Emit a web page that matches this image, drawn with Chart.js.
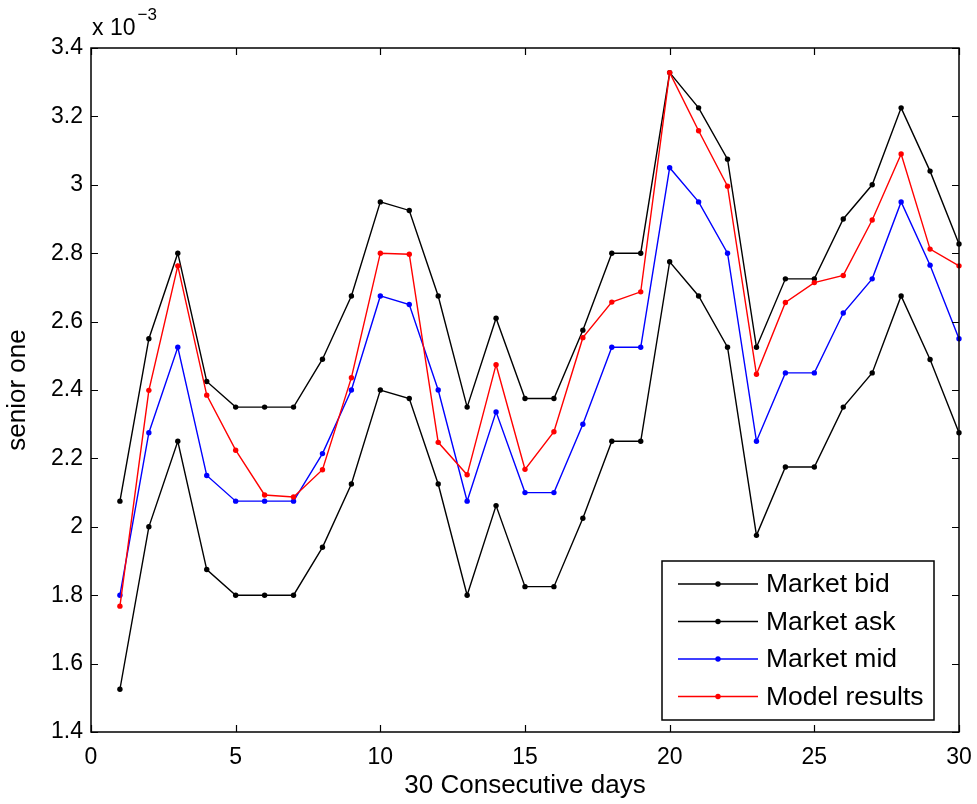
<!DOCTYPE html>
<html>
<head>
<meta charset="utf-8">
<title>Market quotes vs model, senior tranche</title>
<script src="https://cdn.jsdelivr.net/npm/chart.js@4.4.1/dist/chart.umd.min.js"></script>
<style>
  html, body { margin: 0; padding: 0; background: #fff; }
  #chart { display: block; }
</style>
</head>
<body>
<canvas id="chart" width="977" height="804"></canvas>
<script>
// Senior tranche spreads over 30 consecutive days (values in units of 1e-3)
const DAYS = Array.from({ length: 30 }, (_, i) => i + 1);

const MARKET_BID = [
  1.525, 2.000, 2.250, 1.875, 1.800, 1.800, 1.800, 1.940, 2.125, 2.400,
  2.375, 2.125, 1.800, 2.062, 1.825, 1.825, 2.025, 2.250, 2.250, 2.775,
  2.675, 2.525, 1.975, 2.175, 2.175, 2.350, 2.450, 2.675, 2.489, 2.275
];
const MARKET_ASK = [
  2.075, 2.550, 2.800, 2.425, 2.350, 2.350, 2.350, 2.490, 2.675, 2.950,
  2.925, 2.675, 2.350, 2.610, 2.375, 2.375, 2.575, 2.800, 2.800, 3.328,
  3.225, 3.075, 2.525, 2.725, 2.725, 2.900, 3.000, 3.225, 3.040, 2.827
];
const MARKET_MID = [
  1.800, 2.275, 2.525, 2.150, 2.075, 2.075, 2.075, 2.214, 2.400, 2.675,
  2.650, 2.400, 2.075, 2.336, 2.100, 2.100, 2.300, 2.525, 2.525, 3.050,
  2.950, 2.800, 2.250, 2.450, 2.450, 2.625, 2.725, 2.950, 2.765, 2.550
];
const MODEL_RESULTS = [
  1.768, 2.399, 2.763, 2.385, 2.224, 2.093, 2.087, 2.167, 2.436, 2.800,
  2.797, 2.247, 2.152, 2.474, 2.168, 2.278, 2.553, 2.657, 2.687, 3.328,
  3.158, 2.996, 2.446, 2.656, 2.714, 2.735, 2.897, 3.090, 2.812, 2.763
];

const SERIES_LABELS = ['Market bid', 'Market ask', 'Market mid', 'Model results'];
const SERIES_COLORS = ['#000000', '#000000', '#0000ff', '#ff0000'];

const X_TICKS = [0, 5, 10, 15, 20, 25, 30];
const Y_TICKS = [1.4, 1.6, 1.8, 2.0, 2.2, 2.4, 2.6, 2.8, 3.0, 3.2, 3.4];

const FONT = '"Liberation Sans", Arial, Helvetica, sans-serif';
const TICK_LEN = 7;

function mkSeries(values, idx) {
  return {
    label: SERIES_LABELS[idx],
    data: DAYS.map((d, i) => ({ x: d, y: values[i] })),
    borderColor: SERIES_COLORS[idx],
    backgroundColor: SERIES_COLORS[idx],
    borderWidth: 1.4,
    pointRadius: 2.7,
    pointHoverRadius: 2.7,
    pointBorderWidth: 0,
    tension: 0,
    clip: 8,
    order: 4 - idx   // later series sit on top
  };
}

// box around the plot with inward ticks on all four sides, plus the 1e-3 multiplier
const axesBox = {
  id: 'axesBox',
  afterDatasetsDraw(chart) {
    const { ctx, chartArea: a, scales } = chart;
    ctx.save();
    ctx.strokeStyle = '#000';
    ctx.lineWidth = 1.5;
    ctx.strokeRect(a.left, a.top, a.right - a.left, a.bottom - a.top);
    ctx.lineWidth = 1.2;
    ctx.beginPath();
    X_TICKS.forEach(v => {
      const px = Math.round(scales.x.getPixelForValue(v)) + 0.5;
      ctx.moveTo(px, a.bottom); ctx.lineTo(px, a.bottom - TICK_LEN);
      ctx.moveTo(px, a.top); ctx.lineTo(px, a.top + TICK_LEN);
    });
    Y_TICKS.forEach(v => {
      const py = Math.round(scales.y.getPixelForValue(v)) + 0.5;
      ctx.moveTo(a.left, py); ctx.lineTo(a.left + TICK_LEN, py);
      ctx.moveTo(a.right, py); ctx.lineTo(a.right - TICK_LEN, py);
    });
    ctx.stroke();

    // exponent label above the y axis
    ctx.fillStyle = '#000';
    ctx.textBaseline = 'alphabetic';
    ctx.textAlign = 'left';
    ctx.font = '23px ' + FONT;
    ctx.fillText('x 10', a.left + 1, a.top - 13);
    const w = ctx.measureText('x 10').width;
    ctx.font = '17px ' + FONT;
    ctx.fillText('\u22123', a.left + 1 + w + 2, a.top - 28);
    ctx.restore();
  }
};

// MATLAB-style legend box in the lower right of the plot
const boxLegend = {
  id: 'boxLegend',
  afterDraw(chart) {
    const { ctx, chartArea: a } = chart;
    const x0 = a.right - 297, y0 = a.bottom - 171, w = 272, h = 159;
    ctx.save();
    ctx.fillStyle = '#fff';
    ctx.fillRect(x0, y0, w, h);
    ctx.strokeStyle = '#000';
    ctx.lineWidth = 1.5;
    ctx.strokeRect(x0, y0, w, h);
    ctx.font = '26.5px ' + FONT;
    ctx.textBaseline = 'middle';
    ctx.textAlign = 'left';
    chart.data.datasets.forEach((ds, i) => {
      const cy = y0 + 23 + i * 37.5;
      ctx.strokeStyle = ds.borderColor;
      ctx.lineWidth = 1.4;
      ctx.beginPath();
      ctx.moveTo(x0 + 16, cy); ctx.lineTo(x0 + 96, cy);
      ctx.stroke();
      ctx.fillStyle = ds.borderColor;
      ctx.beginPath();
      ctx.arc(x0 + 56, cy, 2.7, 0, Math.PI * 2);
      ctx.fill();
      ctx.fillStyle = '#000';
      ctx.fillText(ds.label, x0 + 104, cy + 1);
    });
    ctx.restore();
  }
};

new Chart(document.getElementById('chart'), {
  type: 'line',
  data: {
    datasets: [
      mkSeries(MARKET_BID, 0),
      mkSeries(MARKET_ASK, 1),
      mkSeries(MARKET_MID, 2),
      mkSeries(MODEL_RESULTS, 3)
    ]
  },
  options: {
    responsive: false,
    animation: false,
    layout: { padding: { top: 48, right: 18, left: 0, bottom: 0 } },
    plugins: {
      legend: { display: false },
      tooltip: { enabled: false }
    },
    scales: {
      x: {
        type: 'linear',
        min: 0,
        max: 30,
        afterBuildTicks: s => { s.ticks = X_TICKS.map(v => ({ value: v })); },
        afterFit: s => {
          s.height = 72;
          // let the end labels hang outside the plot like in MATLAB
          s.paddingLeft = 0;
          s.paddingRight = 0;
        },
        grid: { display: false, drawTicks: false },
        border: { display: false },
        ticks: {
          color: '#000',
          padding: 12,
          maxRotation: 0,
          font: { family: FONT, size: 23 }
        },
        title: {
          display: true,
          text: '30 Consecutive days',
          color: '#000',
          padding: { top: 0, bottom: 3 },
          font: { family: FONT, size: 26 }
        }
      },
      y: {
        type: 'linear',
        min: 1.4,
        max: 3.4,
        afterBuildTicks: s => { s.ticks = Y_TICKS.map(v => ({ value: v })); },
        afterFit: s => {
          s.width = 91;
          s.paddingTop = 0;
          s.paddingBottom = 0;
        },
        grid: { display: false, drawTicks: false },
        border: { display: false },
        ticks: {
          color: '#000',
          padding: 8,
          font: { family: FONT, size: 23 },
          callback: v => String(Number(v.toFixed(1)))
        },
        title: {
          display: true,
          text: 'senior one',
          color: '#000',
          padding: { top: 2, bottom: 0 },
          font: { family: FONT, size: 26 }
        }
      }
    }
  },
  plugins: [axesBox, boxLegend]
});
</script>
</body>
</html>
